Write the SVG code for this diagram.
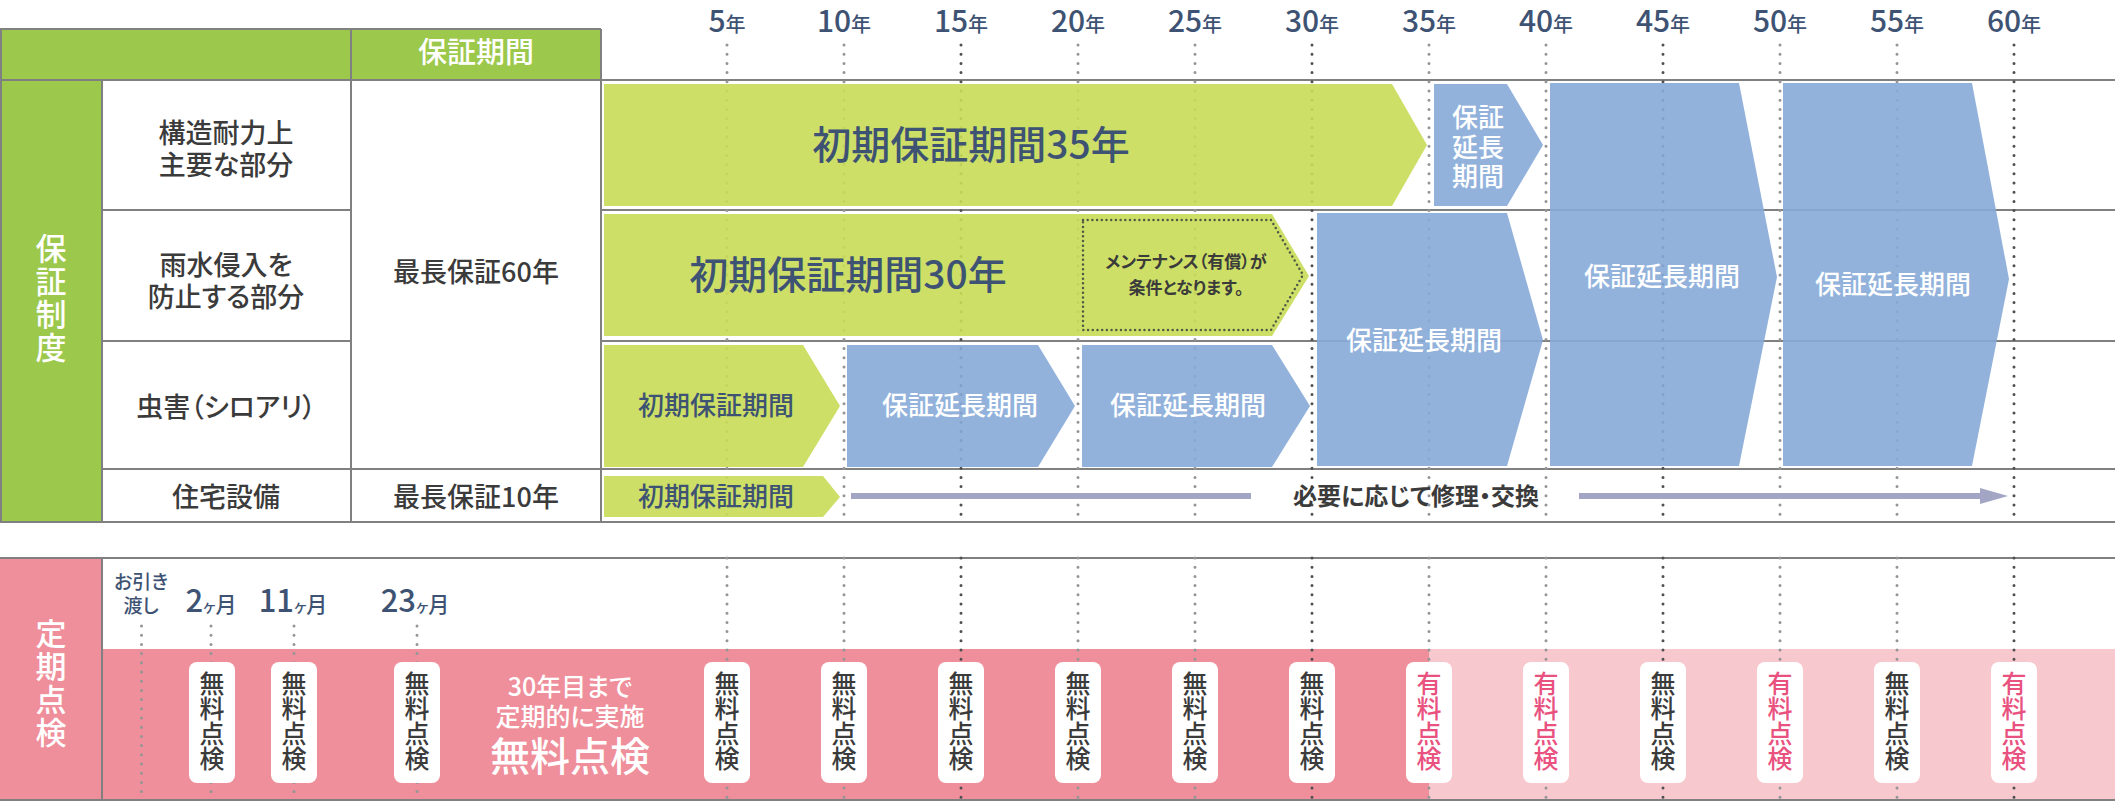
<svg xmlns="http://www.w3.org/2000/svg" width="2121" height="806" viewBox="0 0 2121 806">
<style>
text{font-family:"Noto Sans CJK JP","Noto Sans",sans-serif;font-feature-settings:"palt";}
.tl{stroke:#808080;stroke-width:2;fill:none}
.dl{stroke:#959595;stroke-width:3;stroke-linecap:round;stroke-dasharray:0 9.2;fill:none}
.dd{stroke:#4f4f4f;stroke-width:3;stroke-linecap:round;stroke-dasharray:0 9.2;fill:none}
.gb{fill:#c8dc55;fill-opacity:0.9}
.bb{fill:#86aad8;fill-opacity:0.9}
.lab{font-size:27px;fill:#3b3b3b;text-anchor:middle;font-weight:500}
.yr{fill:#3e5373;text-anchor:middle;font-weight:500}
.gt{fill:#3e5373;text-anchor:middle;font-weight:500}
.wt{fill:#ffffff;text-anchor:middle;font-weight:500}
.vt{writing-mode:vertical-rl;text-anchor:middle;font-feature-settings:normal}
.pill{fill:#ffffff}
.pt{font-size:25px;font-weight:500}
.free{fill:#3b3b3b}
.paid{fill:#e9517f}
</style>
<rect x="0" y="0" width="2121" height="806" fill="#ffffff"/>

<g id="table">
  <rect x="0" y="29" width="601" height="51" fill="#9cc84c"/>
  <rect x="0" y="80" width="102" height="442" fill="#9cc84c"/>
  <line class="tl" x1="0" y1="29" x2="601" y2="29"/>
  <line class="tl" x1="0" y1="80" x2="2115" y2="80"/>
  <line class="tl" x1="102" y1="210" x2="351" y2="210"/>
  <line class="tl" x1="601" y1="210" x2="2115" y2="210"/>
  <line class="tl" x1="102" y1="341" x2="351" y2="341"/>
  <line class="tl" x1="601" y1="341" x2="2115" y2="341"/>
  <line class="tl" x1="102" y1="469" x2="2115" y2="469"/>
  <line class="tl" x1="0" y1="522" x2="2115" y2="522"/>
  <line class="tl" x1="1" y1="29" x2="1" y2="522"/>
  <line class="tl" x1="102" y1="80" x2="102" y2="522"/>
  <line class="tl" x1="351" y1="29" x2="351" y2="522"/>
  <line class="tl" x1="601" y1="29" x2="601" y2="522"/>
  <text class="wt" x="476" y="63" font-size="29">保証期間</text>
  <text class="wt vt" x="51" y="299" font-size="31" letter-spacing="2">保証制度</text>
  <text class="lab" x="226" y="143">構造耐力上</text>
  <text class="lab" x="226" y="175">主要な部分</text>
  <text class="lab" x="226" y="275">雨水侵入を</text>
  <text class="lab" x="226" y="307">防止する部分</text>
  <text class="lab" x="226" y="417">虫害（シロアリ）</text>
  <text class="lab" x="226" y="507">住宅設備</text>
  <text class="lab" x="476" y="282">最長保証60年</text>
  <text class="lab" x="476" y="507">最長保証10年</text>
</g>

<g id="inspection-table">
  <rect x="0" y="558" width="102" height="242" fill="#ef8f9b"/>
  <rect x="102" y="649" width="1327" height="151" fill="#ef8f9b"/>
  <rect x="1429" y="649" width="686" height="151" fill="#f7c9ce"/>
  <line class="tl" x1="0" y1="558" x2="2115" y2="558"/>
  <line class="tl" x1="0" y1="800" x2="2115" y2="800"/>
  <line class="tl" x1="102" y1="558" x2="102" y2="800"/>
  <text class="wt vt" x="51" y="684" font-size="31" letter-spacing="2">定期点検</text>
</g>

<g id="year-labels">
  <text class="yr" x="727" y="32"><tspan font-size="30">5</tspan><tspan font-size="20">年</tspan></text>
  <text class="yr" x="844" y="32"><tspan font-size="30">10</tspan><tspan font-size="20">年</tspan></text>
  <text class="yr" x="961" y="32"><tspan font-size="30">15</tspan><tspan font-size="20">年</tspan></text>
  <text class="yr" x="1078" y="32"><tspan font-size="30">20</tspan><tspan font-size="20">年</tspan></text>
  <text class="yr" x="1195" y="32"><tspan font-size="30">25</tspan><tspan font-size="20">年</tspan></text>
  <text class="yr" x="1312" y="32"><tspan font-size="30">30</tspan><tspan font-size="20">年</tspan></text>
  <text class="yr" x="1429" y="32"><tspan font-size="30">35</tspan><tspan font-size="20">年</tspan></text>
  <text class="yr" x="1546" y="32"><tspan font-size="30">40</tspan><tspan font-size="20">年</tspan></text>
  <text class="yr" x="1663" y="32"><tspan font-size="30">45</tspan><tspan font-size="20">年</tspan></text>
  <text class="yr" x="1780" y="32"><tspan font-size="30">50</tspan><tspan font-size="20">年</tspan></text>
  <text class="yr" x="1897" y="32"><tspan font-size="30">55</tspan><tspan font-size="20">年</tspan></text>
  <text class="yr" x="2014" y="32"><tspan font-size="30">60</tspan><tspan font-size="20">年</tspan></text>
  <text class="yr" x="141" y="589" font-size="19">お引き</text>
  <text class="yr" x="141" y="613" font-size="19">渡し</text>
  <text class="yr" x="211" y="612"><tspan font-size="31">2</tspan><tspan font-size="15">ヶ</tspan><tspan font-size="21">月</tspan></text>
  <text class="yr" x="293" y="612"><tspan font-size="31">11</tspan><tspan font-size="15">ヶ</tspan><tspan font-size="21">月</tspan></text>
  <text class="yr" x="415" y="612"><tspan font-size="31">23</tspan><tspan font-size="15">ヶ</tspan><tspan font-size="21">月</tspan></text>
</g>

<g id="connectors">
  <path class="dl" d="M727 45V522M727 558V800M844 45V522M844 558V800M1078 45V522M1078 558V800M1195 45V522M1195 558V800M1429 45V522M1429 558V800M1546 45V522M1546 558V800M1780 45V522M1780 558V800M1897 45V522M1897 558V800"/>
  <path class="dd" d="M961 45V522M961 558V800M1312 45V522M1312 558V800M1663 45V522M1663 558V800M2014 45V522M2014 558V800"/>
  <path class="dl" d="M141.5 626V792M211 626V792M294 626V792M417 626V792"/>
</g>

<g id="bar-structure-initial">
  <polygon class="gb" points="604,84 1392,84 1427,145 1392,206 604,206"/>
  <text class="gt" x="971" y="159" font-size="39">初期保証期間35年</text>
</g>
<g id="bar-structure-ext">
  <polygon class="bb" points="1434,84 1507,84 1543,145 1507,206 1434,206"/>
  <text class="wt" font-size="26"><tspan x="1478" y="127">保証</tspan><tspan x="1478" y="157">延長</tspan><tspan x="1478" y="186">期間</tspan></text>
</g>
<g id="bar-40-50">
  <polygon class="bb" points="1550,83 1739,83 1777,277 1739,466 1550,466"/>
  <text class="wt" x="1662" y="286" font-size="26">保証延長期間</text>
</g>
<g id="bar-50-60">
  <polygon class="bb" points="1783,83 1972,83 2009,279 1972,466 1783,466"/>
  <text class="wt" x="1893" y="294" font-size="26">保証延長期間</text>
</g>
<g id="bar-30-40">
  <polygon class="bb" points="1317,213 1507,213 1543,340 1507,466 1317,466"/>
  <text class="wt" x="1424" y="350" font-size="26">保証延長期間</text>
</g>
<g id="bar-rain-initial">
  <polygon class="gb" points="604,214 1272,214 1309,276 1272,336 604,336"/>
  <text class="gt" x="848" y="289" font-size="39">初期保証期間30年</text>
</g>
<g id="maintenance-note">
  <polygon points="1083,220 1271,220 1303,275 1271,330 1083,330" fill="none" stroke="#4f5a45" stroke-width="2.5" stroke-linecap="round" stroke-dasharray="0 4.7"/>
  <text x="1186" y="268" font-size="17" fill="#3b3b3b" text-anchor="middle" font-weight="700">メンテナンス（有償）が</text>
  <text x="1186" y="294" font-size="17" fill="#3b3b3b" text-anchor="middle" font-weight="700">条件となります。</text>
</g>
<g id="bar-termite-initial">
  <polygon class="gb" points="604,345 803,345 840,406 803,467 604,467"/>
  <text class="gt" x="716" y="415" font-size="26">初期保証期間</text>
</g>
<g id="bar-termite-ext1">
  <polygon class="bb" points="847,345 1038,345 1075,406 1038,467 847,467"/>
  <text class="wt" x="960" y="415" font-size="26">保証延長期間</text>
</g>
<g id="bar-termite-ext2">
  <polygon class="bb" points="1082,345 1272,345 1310,406 1272,467 1082,467"/>
  <text class="wt" x="1188" y="415" font-size="26">保証延長期間</text>
</g>
<g id="bar-equipment-initial">
  <polygon class="gb" points="604,476 823,476 840,497 823,517 604,517"/>
  <text class="gt" x="716" y="506" font-size="26">初期保証期間</text>
</g>
<g id="repair-arrow">
  <line x1="851" y1="496" x2="1251" y2="496" stroke="#a2a5c3" stroke-width="6"/>
  <line x1="1579" y1="496" x2="1984" y2="496" stroke="#a2a5c3" stroke-width="6"/>
  <polygon points="1980,488 2008,496 1980,504" fill="#a2a5c3"/>
  <text x="1416" y="505" font-size="24" fill="#3b3b3b" text-anchor="middle" font-weight="700">必要に応じて修理・交換</text>
</g>

<g id="free-inspection-note">
  <text class="wt" x="570" y="696" font-size="25">30年目まで</text>
  <text class="wt" x="570" y="726" font-size="25">定期的に実施</text>
  <text class="wt" x="570" y="771" font-size="40" font-weight="700">無料点検</text>
</g>

<g id="pills">
  <g id="pill-2m"><rect class="pill" x="189" y="662" width="46" height="121" rx="8"/><text class="pt vt free" x="212" y="721">無料点検</text></g>
  <g id="pill-11m"><rect class="pill" x="271" y="662" width="46" height="121" rx="8"/><text class="pt vt free" x="294" y="721">無料点検</text></g>
  <g id="pill-23m"><rect class="pill" x="394" y="662" width="46" height="121" rx="8"/><text class="pt vt free" x="417" y="721">無料点検</text></g>
  <g id="pill-5y"><rect class="pill" x="704" y="662" width="46" height="121" rx="8"/><text class="pt vt free" x="727" y="721">無料点検</text></g>
  <g id="pill-10y"><rect class="pill" x="821" y="662" width="46" height="121" rx="8"/><text class="pt vt free" x="844" y="721">無料点検</text></g>
  <g id="pill-15y"><rect class="pill" x="938" y="662" width="46" height="121" rx="8"/><text class="pt vt free" x="961" y="721">無料点検</text></g>
  <g id="pill-20y"><rect class="pill" x="1055" y="662" width="46" height="121" rx="8"/><text class="pt vt free" x="1078" y="721">無料点検</text></g>
  <g id="pill-25y"><rect class="pill" x="1172" y="662" width="46" height="121" rx="8"/><text class="pt vt free" x="1195" y="721">無料点検</text></g>
  <g id="pill-30y"><rect class="pill" x="1289" y="662" width="46" height="121" rx="8"/><text class="pt vt free" x="1312" y="721">無料点検</text></g>
  <g id="pill-35y"><rect class="pill" x="1406" y="662" width="46" height="121" rx="8"/><text class="pt vt paid" x="1429" y="721">有料点検</text></g>
  <g id="pill-40y"><rect class="pill" x="1523" y="662" width="46" height="121" rx="8"/><text class="pt vt paid" x="1546" y="721">有料点検</text></g>
  <g id="pill-45y"><rect class="pill" x="1640" y="662" width="46" height="121" rx="8"/><text class="pt vt free" x="1663" y="721">無料点検</text></g>
  <g id="pill-50y"><rect class="pill" x="1757" y="662" width="46" height="121" rx="8"/><text class="pt vt paid" x="1780" y="721">有料点検</text></g>
  <g id="pill-55y"><rect class="pill" x="1874" y="662" width="46" height="121" rx="8"/><text class="pt vt free" x="1897" y="721">無料点検</text></g>
  <g id="pill-60y"><rect class="pill" x="1991" y="662" width="46" height="121" rx="8"/><text class="pt vt paid" x="2014" y="721">有料点検</text></g>
</g>
</svg>
